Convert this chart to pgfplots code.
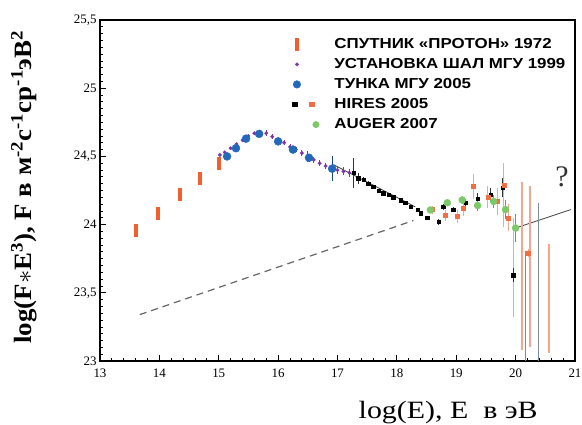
\documentclass[border=0pt]{standalone}
\usepackage{fontspec}
\setmainfont{Liberation Serif}
\newfontfamily\legfont{Liberation Sans}[FakeStretch=1.17]
\usepackage{pgfplots}
\pgfplotsset{compat=1.18}
\definecolor{proton}{RGB}{240,95,45}
\definecolor{msu}{RGB}{125,55,165}
\definecolor{tunka}{RGB}{35,105,185}
\definecolor{hireso}{RGB}{240,110,65}
\definecolor{auger}{RGB}{125,200,105}
\definecolor{errorange}{RGB}{247,165,140}
\definecolor{errgrey}{RGB}{125,140,155}
\begin{document}
\begin{tikzpicture}
\useasboundingbox (-100bp,-64bp) rectangle (482bp,361bp);
\begin{axis}[
  at={(0,0)}, anchor=south west,
  scale only axis, width=475bp, height=341bp,
  xmin=13, xmax=21, ymin=23, ymax=25.5,
  xtick={13,14,15,16,17,18,19,20,21},
  ytick={23,23.5,24,24.5,25,25.5},
  minor x tick num=4, minor y tick num=9,
  tick align=inside, tick pos=left,
  major tick length=6bp, minor tick length=3.5bp,
  axis line style={line width=1.1bp},
  every tick/.style={black, line width=0.8bp},
  /pgf/number format/use comma,
  /pgf/number format/assume math mode=true,
  tick label style={font=\fontsize{13}{13}\selectfont},
  xticklabel style={yshift=-4bp},
  xlabel={\scalebox{1.2}[1]{log(E), E\ \ в эВ}},
  xlabel style={at={(axis description cs:0.733,0)}, anchor=north, yshift=-37bp, font=\fontsize{25}{25}\selectfont},
  ylabel={\scalebox{1.08}[1]{log(F$\ast$E\textsuperscript{3}), F в м\textsuperscript{-2}с\textsuperscript{-1}ср\textsuperscript{-1}эВ\textsuperscript{2}}},
  ylabel style={at={(axis description cs:-0.125,0.51)}, anchor=south, font=\bfseries\fontsize{25}{25}\selectfont},
  legend style={draw=none, fill=none, at={(rel axis cs:0.39,0.958)}, anchor=north west,
    font=\legfont\bfseries\fontsize{14.5}{14.5}\selectfont, row sep=4.5bp, column sep=13bp},
  legend cell align=left,
]
% dashed extrapolation line
\addplot[forget plot, gray!80!black, line width=1.2bp, dash pattern=on 7bp off 5bp] coordinates {(13.67,23.34) (18.28,24.03)};
% solid fit lines
\addplot[forget plot, black!75, line width=0.8bp] coordinates {(16.93,24.44) (18.31,24.13)};
\addplot[forget plot, black!75, line width=0.8bp] coordinates {(20.0,23.975) (20.93,24.11)};
% long error bars at highest energies
\addplot[forget plot, errorange, line width=1.3bp, unbounded coords=jump] coordinates {
 (19.80,24.45) (19.80,23.98) (19.80,nan)
 (19.96,24.05) (19.96,23.32) (19.96,nan)
 (20.11,24.31) (20.11,23.08) (20.11,nan)
 (20.24,24.28) (20.24,23.10) (20.24,nan)
 (20.56,23.86) (20.56,23.06)};
\addplot[forget plot, errgrey, line width=1.3bp, unbounded coords=jump] coordinates {
 (20.17,23.81) (20.17,23.0) (20.17,nan)
 (20.39,24.16) (20.39,23.0)};
% Proton 1972
\addplot[forget plot, only marks, mark=|, proton, mark options={line width=4bp, mark size=6.5bp}] coordinates {
 (13.61,23.96) (13.98,24.085) (14.35,24.22) (14.69,24.34) (15.01,24.45)};
% MSU EAS 1999
\addplot[forget plot, only marks, mark=*, msu, mark size=1.7bp,
  error bars/.cd, y dir=both, y explicit, error bar style={msu, line width=0.8bp}, error mark=none] coordinates {
 (15.02,24.51) +- (0,0.01) (15.10,24.53) +- (0,0.01) (15.20,24.56) +- (0,0.01) (15.30,24.59) +- (0,0.01)
 (15.40,24.62) +- (0,0.01) (15.50,24.65) +- (0,0.01) (15.60,24.67) +- (0,0.01) (15.70,24.68) +- (0,0.01)
 (15.80,24.67) +- (0,0.02) (15.90,24.645) +- (0,0.02) (16.00,24.62) +- (0,0.02) (16.10,24.60) +- (0,0.02)
 (16.20,24.57) +- (0,0.02) (16.30,24.55) +- (0,0.02) (16.40,24.525) +- (0,0.02) (16.50,24.50) +- (0,0.04)
 (16.60,24.475) +- (0,0.02) (16.70,24.45) +- (0,0.02) (16.80,24.43) +- (0,0.02) (16.90,24.415) +- (0,0.02)
 (17.00,24.40) +- (0,0.03) (17.10,24.39) +- (0,0.03) (17.20,24.38) +- (0,0.03)};
% Tunka MSU 2005
\addplot[forget plot, only marks, mark=*, tunka, mark size=4bp,
  error bars/.cd, y dir=both, y explicit, error bar style={tunka!70!black, line width=0.8bp}, error mark=none] coordinates {
 (15.14,24.50) +- (0,0.02) (15.29,24.56) +- (0,0.02) (15.46,24.63) +- (0,0.02) (15.68,24.665) +- (0,0.02)
 (16.00,24.61) +- (0,0.02) (16.25,24.55) +- (0,0.02) (16.52,24.49) +- (0,0.03) (16.91,24.41) +- (0,0.09)};
% HiRes 2005 (black)
\addplot[forget plot, only marks, mark=square*, black, mark size=1.7bp,
  error bars/.cd, y dir=both, y explicit, error bar style={black!80, line width=0.8bp}, error mark=none] coordinates {
 (17.27,24.38) +- (0,0.11) (17.35,24.34) +- (0,0.04) (17.44,24.33) +- (0,0.02) (17.52,24.30) +- (0,0.02)
 (17.60,24.28) +- (0,0.01) (17.69,24.25) +- (0,0.01) (17.77,24.23) +- (0,0.01) (17.86,24.22) +- (0,0.01)
 (17.94,24.20) +- (0,0.01) (18.06,24.18) +- (0,0.01) (18.14,24.16) +- (0,0.01) (18.23,24.13) +- (0,0.01)
 (18.35,24.11) +- (0,0.01) (18.40,24.085) +- (0,0.01) (18.51,24.05) +- (0,0.01) (18.70,24.02) +- (0,0.02)
 (18.78,24.13) +- (0,0.02) (18.95,24.11) +- (0,0.02) (19.16,24.16) +- (0,0.03) (19.36,24.19) +- (0,0.04)
 (19.58,24.22) +- (0,0.05) (19.78,24.27) +- (0,0.07) (19.96,23.63) +- (0,0.05)};
% HiRes 2005 (orange)
\addplot[forget plot, only marks, mark=square*, hireso, mark size=2bp,
  error bars/.cd, y dir=both, y explicit, error bar style={errorange, line width=1bp}, error mark=none] coordinates {
 (18.60,24.11) +- (0,0.03) (18.82,24.07) +- (0,0.04) (19.02,24.06) +- (0,0.05) (19.12,24.12) +- (0,0.06)
 (19.29,24.28) +- (0,0.09) (19.53,24.20) +- (0,0.08) (19.69,24.17) +- (0,0.10) (19.80,24.29) +- (0,0.07)
 (19.88,24.05) +- (0,0.10) (20.22,23.79) +- (0,0.03)};
% Auger 2007
\addplot[forget plot, only marks, mark=*, auger, mark size=3.5bp,
  error bars/.cd, y dir=both, y explicit, error bar style={auger!80!black, line width=0.8bp}, error mark=none] coordinates {
 (18.565,24.107) +- (0,0.02) (18.85,24.16) +- (0,0.02) (19.10,24.18) +- (0,0.03) (19.36,24.14) +- (0,0.04)
 (19.63,24.17) +- (0,0.05) (19.83,24.11) +- (0,0.07) (20.00,23.975) +- (0,0.10)};
\node[font=\fontsize{30}{30}\selectfont, text=black!80] at (axis cs:20.78,24.35) {?};
% legend
\addlegendimage{only marks, mark=|, proton, mark options={line width=4bp, mark size=6.5bp}}
\addlegendentry{СПУТНИК «ПРОТОН» 1972}
\addlegendimage{only marks, mark=*, msu, mark size=1.7bp}
\addlegendentry{УСТАНОВКА ШАЛ МГУ 1999}
\addlegendimage{only marks, mark=*, tunka, mark size=3.8bp}
\addlegendentry{ТУНКА МГУ 2005}
\addlegendimage{legend image code/.code={
  \fill[black] (0.15cm,-2.2bp) rectangle ++(4.4bp,4.4bp);
  \fill[hireso] (0.15cm+17bp,-2.2bp) rectangle ++(4.4bp,4.4bp);}}
\addlegendentry{HIRES 2005}
\addlegendimage{legend image code/.code={
  \path[draw=none] (0,0) rectangle (0.6cm,0);
  \fill[auger, draw=none] (0.3cm+19bp,0) circle[radius=3.5bp];}}
\addlegendentry{AUGER 2007}
\end{axis}
\end{tikzpicture}
\end{document}
